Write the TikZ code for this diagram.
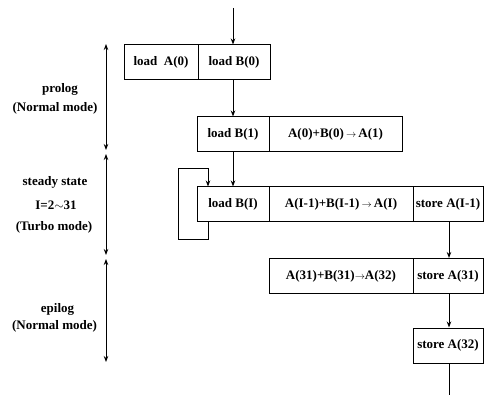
\documentclass[tikz,border=0pt]{standalone}
\usepackage{fontspec}
\setmainfont{Liberation Serif}
\usetikzlibrary{arrows.meta}
\newcommand{\sarr}{\,\scalebox{0.85}{$\rightarrow$}\,}
\newcommand{\tarr}{\scalebox{0.85}{$\rightarrow$}}
\begin{document}
\begin{tikzpicture}[x=1pt,y=-1pt,
  every node/.style={font=\fontsize{13}{15}\selectfont\bfseries},
  box/.style={draw,line width=1pt,minimum height=35pt,inner sep=0pt},
  lbl/.style={inner sep=0pt,font=\fontsize{13}{15}\selectfont\bfseries},
  conn/.style={line width=1pt,-{Stealth[length=6pt,width=4.5pt]}},
  axis/.style={line width=1pt,{Stealth[length=6pt,width=4.5pt]}-{Stealth[length=6pt,width=4.5pt]}},
  plain/.style={line width=1pt}]
\useasboundingbox (0,0) rectangle (484,395);
% boxes
\node[box,minimum width=74pt] (la0) at (161,62.5) {load\ \ A(0)};
\node[box,minimum width=72pt] (lb0) at (234,62.5) {load B(0)};
\node[box,minimum width=72pt] (lb1) at (233,134.5) {load B(1)};
\node[box,minimum width=133pt] (add1) at (335.5,134.5) {A(0)+B(0)\sarr A(1)};
\node[box,minimum width=72pt] (lbi) at (233,204.5) {load B(I)};
\node[box,minimum width=144pt] (addi) at (341,204.5) {A(I-1)+B(I-1)\sarr A(I)};
\node[box,minimum width=70pt] (sti) at (448,204.5) {store A(I-1)};
\node[box,minimum width=144pt] (add31) at (341,276) {A(31)+B(31)\tarr A(32)};
\node[box,minimum width=70pt] (st31) at (448,276) {store A(31)};
\node[box,minimum width=70pt] (st32) at (448,345.5) {store A(32)};
% connectors
\coordinate (top) at (233,8);
\coordinate (bot) at (449,395);
\draw[conn] (top) -- (top |- lb0.north);
\draw[conn] (lb0.south -| top) -- (top |- lb1.north);
\draw[conn] (lb1.south -| top) -- (top |- lbi.north);
\draw[conn] (sti.south -| bot) -- (bot |- st31.north);
\draw[conn] (st31.south -| bot) -- (bot |- st32.north);
\draw[plain] (st32.south -| bot) -- (bot);
% loop
\coordinate (lp1) at (208,240);
\coordinate (lp2) at (178,240);
\coordinate (lp3) at (178,169);
\coordinate (lp4) at (208,169);
\draw[conn] (lbi.south -| lp1) -- (lp1) -- (lp2) -- (lp3) -- (lp4) -- (lp4 |- lbi.north);
% phase axis
\coordinate (p1) at (106,44);
\coordinate (p2) at (106,150);
\coordinate (s1) at (106,154);
\coordinate (s2) at (106,255);
\coordinate (e1) at (106,259);
\coordinate (e2) at (106,362);
\draw[axis] (p1) -- (p2);
\draw[axis] (s1) -- (s2);
\draw[axis] (e1) -- (e2);
% labels
\node[lbl] (prolog) at (60,89) {prolog};
\node[lbl] (pnm) at (55,108) {(Normal mode)};
\node[lbl] (steady) at (55,182) {steady state};
\node[lbl] (irange) at (56,205) {I=2$\sim$31};
\node[lbl] (turbo) at (54,227) {(Turbo mode)};
\node[lbl] (epilog) at (57.5,309) {epilog};
\node[lbl] (enm) at (54.5,326) {(Normal mode)};
\end{tikzpicture}
\end{document}
